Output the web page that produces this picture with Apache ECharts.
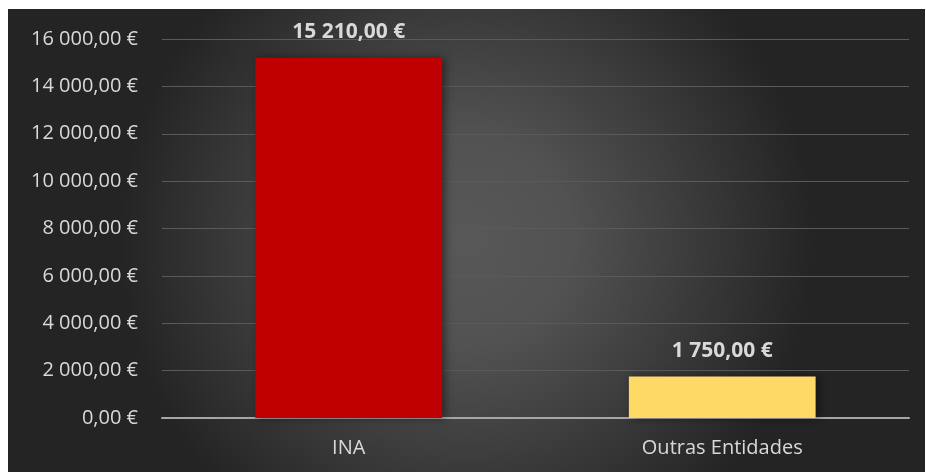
<!DOCTYPE html>
<html>
<head>
<meta charset="utf-8">
<script src="https://cdn.jsdelivr.net/npm/echarts@6/dist/echarts.min.js"></script>
<style>
    html, body { margin: 0; padding: 0; background: #ffffff; }
    #chart { position: absolute; left: 8px; top: 9px; width: 917px; height: 463px; }
</style>
</head>
<body>
<div id="chart"></div>
<script>
const categories = ['INA', 'Outras Entidades'];
const values = [15210, 1750];
const barColors = ['#C00000', '#FFD966'];
const yTicks = [0, 2000, 4000, 6000, 8000, 10000, 12000, 14000, 16000];

const FontColor = '#d9d9d9'; // texto
const FontFamily = 'Open Sans';

// 15210 -> "15 210,00 €"
function euro(v) {
    const parts = Number(v).toFixed(2).split('.');
    const int = parts[0].replace(/\B(?=(\d{3})+(?!\d))/g, ' ');
    return int + ',' + parts[1] + ' €';
}

const myChart = echarts.init(document.getElementById('chart'));

const option = {
    backgroundColor: {
        type: 'radial',
        x: 0.5,
        y: 0.5,
        r: 0.75,
        colorStops: [
            { offset: 0, color: '#585858' },
            { offset: 0.3, color: '#525252' },
            { offset: 1, color: '#242424' }
        ]
    },
    grid: {
        left: 154,
        right: 16,
        top: 30,
        bottom: 54
    },
    xAxis: {
        type: 'category',
        data: categories,
        axisLine: {
            lineStyle: { color: '#a6a6a6', width: 2 }
        },
        axisTick: { show: false },
        axisLabel: {
            color: FontColor,
            fontSize: 20,
            fontFamily: FontFamily,
            margin: 20
        }
    },
    yAxis: {
        type: 'value',
        min: yTicks[0],
        max: yTicks[yTicks.length - 1],
        interval: 2000,
        axisLine: { show: false },
        axisTick: { show: false },
        axisLabel: {
            color: FontColor,
            fontSize: 20,
            fontFamily: FontFamily,
            margin: 24,
            formatter: euro
        },
        splitLine: {
            lineStyle: { color: '#5a5a5a', width: 1 }
        }
    },
    series: [{
        type: 'bar',
        barWidth: '50%',
        data: values.map((v, i) => ({
            value: v,
            itemStyle: { color: barColors[i] }
        })),
        itemStyle: {
            shadowColor: 'rgba(0,0,0,0.45)',
            shadowBlur: 8,
            shadowOffsetX: 3,
            shadowOffsetY: 0
        },
        label: {
            show: true,
            position: 'top',
            distance: 15,
            color: FontColor,
            fontSize: 21,
            fontWeight: 'bold',
            fontFamily: FontFamily,
            formatter: p => euro(p.value)
        }
    }]
};

myChart.setOption(option);
</script>
</body>
</html>
